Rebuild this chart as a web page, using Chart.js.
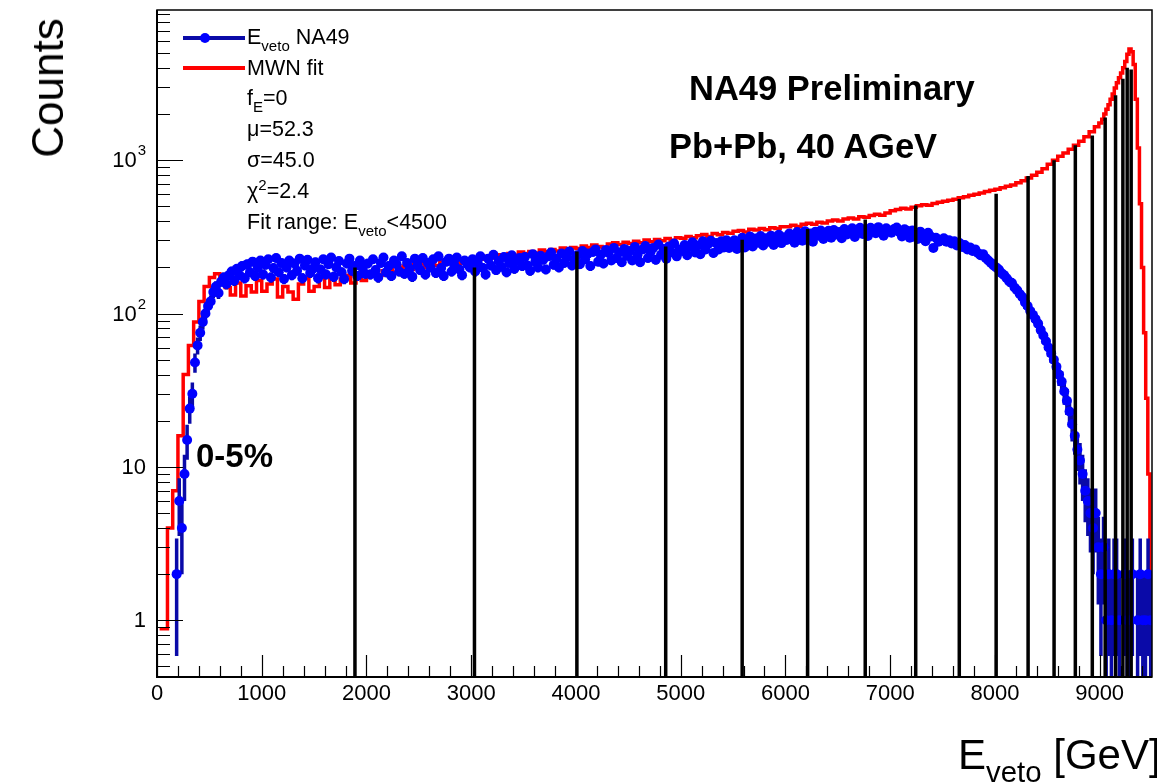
<!DOCTYPE html>
<html>
<head>
<meta charset="utf-8">
<script src="https://cdn.jsdelivr.net/npm/chart.js@4.4.1/dist/chart.umd.min.js"></script>
<style>
  body { margin: 0; background: #fff; }
  #wrap { position: relative; width: 1157px; height: 784px; font-family: "Liberation Sans", Arial, Helvetica, sans-serif; color: #000; }
  #plot { position: absolute; left: 0; top: 0; }
  .t { position: absolute; white-space: nowrap; line-height: 1; }
  .leg { font-size: 21.5px; left: 247px; }
  .bold { font-weight: bold; }
  sub.s { font-size: 70%; vertical-align: -0.45em; line-height: 0; }
  sup.s { font-size: 70%; vertical-align: 0.55em; line-height: 0; }
</style>
</head>
<body>
<div id="wrap">
  <canvas id="plot" width="1157" height="784"></canvas>

  <div class="t" style="left:183px; top:36px; width:62px; height:4px; background:#0a0aa8;"></div>
  <div class="t" style="left:200px; top:33px; width:10px; height:10px; border-radius:50%; background:#0000ff;"></div>
  <div class="t" style="left:183px; top:66px; width:62px; height:4px; background:#ff0000;"></div>

  <div class="t leg" style="top:27px;">E<sub class="s">veto</sub> NA49</div>
  <div class="t leg" style="top:58px;">MWN fit</div>
  <div class="t leg" style="top:88px;">f<sub class="s">E</sub>=0</div>
  <div class="t leg" style="top:119px;">&mu;=52.3</div>
  <div class="t leg" style="top:150px;">&sigma;=45.0</div>
  <div class="t leg" style="top:181px;">&chi;<sup class="s">2</sup>=2.4</div>
  <div class="t leg" style="top:212px;">Fit range: E<sub class="s">veto</sub>&lt;4500</div>

  <div class="t bold" style="left:689px; top:71px; font-size:34.5px;">NA49 Preliminary</div>
  <div class="t bold" style="left:669px; top:129px; font-size:34.5px;">Pb+Pb, 40 AGeV</div>
  <div class="t bold" style="left:196px; top:439px; font-size:33px;">0-5%</div>

  <div class="t" style="left:48px; top:88px; font-size:44px; transform: translate(-50%, -50%) rotate(-90deg);">Counts</div>
  <div class="t" style="left:958px; top:734px; font-size:42px;">E<sub class="s">veto</sub> [GeV]</div>
</div>

<script>
// x axis (GeV) and y axis (counts, log) ranges
const xMin = 0;
const xMax = 9500;
const yMin = 0.427;
const yMax = 9530;

const xMajorStep = 1000;
const xMinorStep = 200;
const xTickLabels = ["0", "1000", "2000", "3000", "4000", "5000", "6000", "7000", "8000", "9000"];
const yTickValues = [1, 10, 100, 1000];
const yTickLabels = [["1", ""], ["10", ""], ["10", "2"], ["10", "3"]];

// NA49 data, 25 GeV bins starting at 0 (null = empty bin), one row per 500 GeV
const dataBinWidth = 25;
const vetoCounts = [
  null, null, null, null, null, null, null, 2, 6, 4, 9, 15, 24, 30, 48, 62, 75, 88, 100, 112,
  120, 138, 150, 136, 162, 172, 156, 178, 188, 164, 196, 178, 204, 170, 210, 186, 218, 176, 200, 222,
  180, 208, 226, 172, 198, 230, 186, 214, 168, 200, 222, 178, 212, 190, 228, 170, 206, 224, 184, 196,
  216, 170, 194, 226, 180, 210, 232, 174, 200, 220, 186, 168, 212, 228, 190, 204, 176, 222, 198, 182,
  212, 180, 226, 192, 172, 214, 232, 186, 204, 176, 222, 210, 188, 236, 182, 214, 196, 174, 228, 206,
  192, 230, 180, 214, 200, 226, 184, 236, 198, 176, 218, 228, 188, 208, 232, 194, 178, 222, 210, 200,
  226, 188, 214, 236, 198, 180, 228, 206, 242, 192, 220, 202, 234, 186, 214, 240, 196, 222, 230, 204,
  234, 206, 190, 244, 218, 200, 238, 224, 194, 236, 250, 208, 228, 200, 246, 214, 232, 254, 206, 226,
  240, 210, 256, 226, 246, 204, 252, 262, 218, 242, 212, 260, 248, 222, 268, 230, 250, 216, 264, 238,
  256, 222, 272, 240, 216, 262, 276, 230, 252, 268, 224, 282, 242, 264, 228, 274, 250, 286, 236, 262,
  256, 280, 240, 272, 292, 250, 278, 244, 296, 262, 284, 298, 248, 288, 262, 296, 270, 300, 268, 286,
  300, 264, 290, 312, 270, 302, 318, 274, 308, 290, 320, 278, 310, 294, 322, 280, 312, 326, 288, 314,
  302, 332, 316, 290, 340, 320, 298, 344, 314, 332, 294, 342, 322, 348, 306, 334, 346, 312, 350, 328,
  340, 310, 356, 328, 346, 360, 316, 348, 362, 330, 352, 320, 362, 344, 334, 366, 350, 322, 360, 346,
  336, 356, 364, 340, 318, 354, 346, 312, 348, 334, 306, 342, 324, 296, 336, 318, 268, 312, 294, 300,
  310, 294, 300, 286, 296, 278, 288, 272, 280, 262, 270, 256, 262, 248, 240, 244, 230, 222, 214, 206,
  200, 194, 184, 178, 170, 162, 158, 148, 142, 134, 128, 118, 112, 104, 98, 92, 86, 78, 72, 66,
  60, 55, 50, 45, 40, 36, 31, 27, 23, 19, 16, 13, 11, 9, 7, 6, 5, 4, 5, 3,
  2, 3, 1, 2, 1, 2, 2, 1, null, 2, 1, 1, 2, null, 1, 2, 1, 1, 2, 1
];

// MWN fit, 50 GeV bins up to 9000
const fitBinWidth = 50;
const fitCounts = [
  0.88, 0.88, 4, 7, 16, 40, 62, 88, 120, 150, 172, 182, 160, 148, 132, 158, 130, 152, 138, 164,
  140, 156, 168, 128, 150, 138, 124, 156, 170, 140, 150, 172, 148, 176, 154, 168, 178, 158, 182, 164,
  176, 186, 178, 190, 196, 186, 200, 204, 194, 208, 212, 200, 216, 206, 220, 214, 222, 212, 228, 220,
  224, 232, 226, 236, 230, 242, 236, 246, 240, 252, 246, 254, 248, 260, 254, 262, 256, 268, 262, 270,
  266, 276, 270, 280, 274, 270, 284, 290, 282, 292, 286, 296, 290, 302, 294, 304, 298, 308, 300, 312,
  310, 318, 312, 322, 328, 318, 332, 326, 338, 334, 344, 348, 340, 354, 350, 358, 352, 362, 358, 368,
  368, 376, 370, 382, 388, 382, 394, 390, 402, 408, 402, 414, 420, 414, 428, 424, 436, 444, 438, 452,
  468, 476, 486, 480, 494, 504, 512, 508, 522, 532, 540, 548, 556, 568, 578, 590, 600, 612, 624, 636,
  646, 660, 676, 690, 712, 734, 766, 796, 834, 880, 940, 1000, 1060, 1115, 1180, 1250, 1330, 1420, 1530, 1650
];

// MWN fit near the peak, finer bins
const fitTailE = [9010, 9030, 9050, 9070, 9090, 9110, 9130, 9150, 9170, 9190, 9210, 9230, 9250,
                  9270, 9290, 9310, 9330, 9350, 9370, 9390, 9410, 9430, 9450, 9470, 9490];
const fitTailN = [1750, 1850, 2000, 2150, 2300, 2500, 2700, 2950, 3200, 3450, 3700, 4000, 4400,
                  4900, 5300, 5100, 4200, 2500, 1200, 520, 200, 75, 28, 9, 1.5];

// centrality class boundaries and the height of each marker line
const cutE = [1890, 3031, 4009, 4857, 5587, 6212, 6762, 7244, 7660, 8012,
              8317, 8565, 8768, 8930, 9053, 9152, 9222, 9263, 9301];
const cutTop = [200, 200, 254, 274, 303, 356, 410, 506, 558, 604,
                790, 1000, 1250, 1450, 1900, 2650, 3400, 4000, 3900];

const blueData = [];
const errData = [];
vetoCounts.forEach((n, i) => {
    if (n === null) return;
    const e = dataBinWidth / 2 + i * dataBinWidth;
    blueData.push({ x: e, y: n });
    const err = Math.sqrt(n);
    errData.push({ x: e, y: n - err > 0 ? n - err : yMin * 0.5 });
    errData.push({ x: e, y: n + err });
    errData.push({ x: e, y: null });
});

const fitData = fitCounts.map((n, i) => ({ x: fitBinWidth / 2 + i * fitBinWidth, y: n }));
fitTailE.forEach((e, i) => fitData.push({ x: e, y: fitTailN[i] }));

const cutData = [];
cutE.forEach((e, i) => {
    cutData.push({ x: e, y: yMin * 0.5 });
    cutData.push({ x: e, y: cutTop[i] });
    cutData.push({ x: e, y: null });
});

// ROOT style frame: inward ticks, labels drawn by hand
const rootAxes = {
    id: "rootAxes",
    afterDatasetsDraw(chart) {
        const { ctx, chartArea: a, scales } = chart;
        const x = scales.x, y = scales.y;
        ctx.save();
        ctx.strokeStyle = "#000";
        ctx.fillStyle = "#000";

        ctx.lineWidth = 1.5;
        ctx.strokeRect(a.left, a.top, a.right - a.left, a.bottom - a.top);
        ctx.lineWidth = 2;
        ctx.beginPath();
        ctx.moveTo(a.left, a.top);
        ctx.lineTo(a.left, a.bottom);
        ctx.lineTo(a.right, a.bottom);
        ctx.stroke();

        ctx.lineWidth = 1.2;
        ctx.beginPath();
        for (let e = xMin; e <= xMax; e += xMinorStep) {
            const px = Math.round(x.getPixelForValue(e)) + 0.5;
            const len = e % xMajorStep === 0 ? 22 : 11;
            ctx.moveTo(px, a.bottom);
            ctx.lineTo(px, a.bottom - len);
        }
        for (let d = -1; d <= 3; d++) {
            for (let k = 1; k <= 9; k++) {
                const v = k * Math.pow(10, d);
                if (v < yMin || v > yMax) continue;
                const py = Math.round(y.getPixelForValue(v)) + 0.5;
                const len = k === 1 ? 26 : 13;
                ctx.moveTo(a.left, py);
                ctx.lineTo(a.left + len, py);
            }
        }
        ctx.stroke();

        ctx.font = "22px 'Liberation Sans', Arial, sans-serif";
        ctx.textAlign = "center";
        ctx.textBaseline = "top";
        xTickLabels.forEach((lab, i) => {
            ctx.fillText(lab, x.getPixelForValue(i * xMajorStep), a.bottom + 6);
        });

        ctx.textBaseline = "middle";
        yTickValues.forEach((v, i) => {
            const py = y.getPixelForValue(v);
            const [base, sup] = yTickLabels[i];
            ctx.font = "15px 'Liberation Sans', Arial, sans-serif";
            const supW = sup ? ctx.measureText(sup).width : 0;
            ctx.textAlign = "left";
            if (sup) ctx.fillText(sup, 146 - supW, py - 9);
            ctx.font = "22px 'Liberation Sans', Arial, sans-serif";
            ctx.textAlign = "right";
            ctx.fillText(base, 146 - supW - (sup ? 1 : 0), py + 1);
        });
        ctx.restore();
    }
};

new Chart(document.getElementById("plot"), {
    type: "line",
    data: {
        datasets: [
            { data: cutData, borderColor: "#000", borderWidth: 3.5, pointRadius: 0, spanGaps: false },
            { data: blueData, showLine: false, pointRadius: 5, pointBorderWidth: 0,
              pointBackgroundColor: "#0000ff", borderColor: "#0000ff" },
            { data: errData, borderColor: "#0a0aa8", borderWidth: 3.5, pointRadius: 0, spanGaps: false },
            { data: fitData, borderColor: "#ff0000", borderWidth: 3.5, pointRadius: 0, stepped: "middle" }
        ]
    },
    options: {
        responsive: false,
        animation: false,
        devicePixelRatio: 1,
        layout: { padding: { left: 157, right: 2, top: 10, bottom: 107 } },
        plugins: { legend: { display: false }, tooltip: { enabled: false } },
        scales: {
            x: { type: "linear", min: xMin, max: xMax, display: false },
            y: { type: "logarithmic", min: yMin, max: yMax, display: false }
        }
    },
    plugins: [rootAxes]
});
</script>
</body>
</html>
